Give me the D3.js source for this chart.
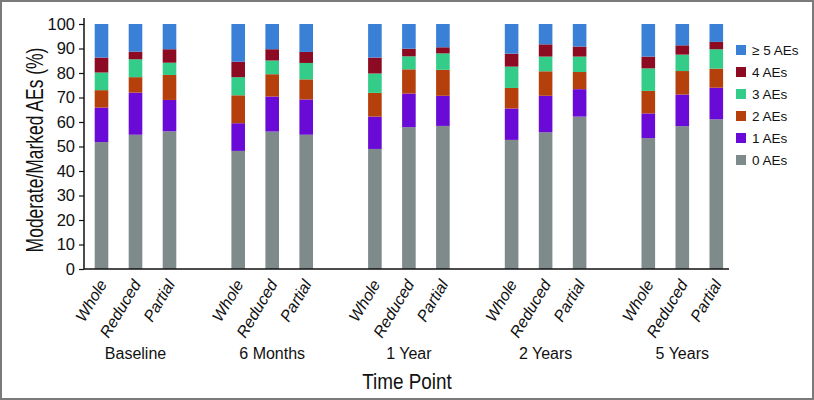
<!DOCTYPE html>
<html>
<head>
<meta charset="utf-8">
<script src="https://cdn.jsdelivr.net/npm/d3@7"></script>
<style>
  body { margin: 0; background: #fff; }
  svg { display: block; }
  text { font-family: "Liberation Sans", Arial, Helvetica, sans-serif; fill: #111; }
</style>
</head>
<body>
<svg id="chart" width="814" height="400"></svg>
<script>
// ---- data ----
const groups = ["Baseline", "6 Months", "1 Year", "2 Years", "5 Years"];
const arms = ["Whole", "Reduced", "Partial"];
const seriesNames = ["0 AEs", "1 AEs", "2 AEs", "3 AEs", "4 AEs", "\u2265 5 AEs"];
const seriesColors = ["#7f8b8b", "#6a0ad6", "#b5400b", "#33cc88", "#8c0a22", "#3a80d6"];
const yTicks = [0, 10, 20, 30, 40, 50, 60, 70, 80, 90, 100];
// values per bar, ordered Baseline(W,R,P), 6 Months(W,R,P), 1 Year, 2 Years, 5 Years
const ae0 = [51.8, 54.8, 56.2, 48.2, 56.1, 54.8, 49.0, 57.9, 58.4, 52.7, 55.8, 62.2, 53.4, 58.3, 61.1];
const ae1 = [14.1, 17.2, 12.8, 11.3, 14.3, 14.4, 13.2, 13.7, 12.3, 12.8, 14.9, 11.2, 10.1, 12.9, 12.9];
const ae2 = [7.1, 6.3, 10.2, 11.4, 9.1, 8.2, 9.7, 9.9, 10.6, 8.4, 10.0, 7.0, 9.2, 9.6, 7.8];
const ae3 = [7.2, 7.3, 5.0, 7.4, 5.6, 6.7, 7.9, 5.3, 6.7, 8.7, 6.0, 6.3, 9.2, 6.7, 7.9];
const ae4 = [6.1, 3.1, 5.5, 6.3, 4.6, 4.5, 6.5, 3.1, 2.5, 5.3, 5.0, 4.1, 4.8, 3.8, 3.0];
const ae5 = [13.7, 11.3, 10.3, 15.4, 10.3, 11.4, 13.7, 10.1, 9.5, 12.1, 8.3, 9.2, 13.3, 8.7, 7.3];
const seriesValues = [ae0, ae1, ae2, ae3, ae4, ae5];

// ---- build table ----
const rows = [];
groups.forEach((g, gi) => arms.forEach((a, ai) => {
  const r = { group: g, arm: a };
  seriesNames.forEach((s, si) => r[s] = seriesValues[si][gi * arms.length + ai]);
  rows.push(r);
}));

const svg = d3.select("#chart");
const W = 814, H = 400;

// frame
svg.append("rect").attr("x", 1).attr("y", 1).attr("width", W - 2).attr("height", H - 2)
  .attr("fill", "none").attr("stroke", "#7a7a7a").attr("stroke-width", 2);

const x0 = 84, x1 = 729, yBottom = 269, yTop = 24;
const y = d3.scaleLinear().domain([0, 100]).range([yBottom, yTop]);
const gx = d3.scalePoint().domain(groups).range([135.5, 682.3]);
const ax = d3.scaleBand().domain(arms).range([-51, 51]).paddingInner(0.6).paddingOuter(0.3);

const stack = d3.stack().keys(seriesNames);
const stacked = stack(rows);
const color = d3.scaleOrdinal().domain(seriesNames).range(seriesColors);

const layers = svg.append("g").selectAll("g").data(stacked).join("g")
  .attr("fill", d => color(d.key));
layers.selectAll("rect").data(d => d).join("rect")
  .attr("x", d => gx(d.data.group) + ax(d.data.arm))
  .attr("width", ax.bandwidth())
  .attr("y", d => y(d[1]))
  .attr("height", d => y(d[0]) - y(d[1]));

// y axis
const yAxis = d3.axisLeft(y).tickValues(yTicks).tickSize(5).tickSizeOuter(0).tickPadding(4);
const yg = svg.append("g").attr("transform", `translate(${x0},0)`).call(yAxis);
yg.select(".domain").remove();
yg.selectAll(".tick line").attr("stroke", "#111").attr("stroke-width", 1.2);
yg.selectAll(".tick text").attr("font-size", 16.5).attr("font-family", "Liberation Sans, Arial, sans-serif").attr("fill", "#111");
svg.append("line").attr("x1", x0).attr("x2", x0).attr("y1", yBottom).attr("y2", yTop - 6)
  .attr("stroke", "#111").attr("stroke-width", 1.5);
// x axis line
svg.append("line").attr("x1", x0).attr("x2", x1).attr("y1", yBottom).attr("y2", yBottom)
  .attr("stroke", "#111").attr("stroke-width", 1.5);

// rotated arm labels
const lab = svg.append("g");
rows.forEach(r => {
  const cx = gx(r.group) + ax(r.arm) + ax.bandwidth() / 2;
  lab.append("text")
    .attr("transform", `translate(${cx + 6},${yBottom + 15}) rotate(-59)`)
    .attr("text-anchor", "end")
    .attr("font-size", 16)
    .attr("font-style", "italic")
    .text(r.arm);
});

// group labels
svg.append("g").selectAll("text").data(groups).join("text")
  .attr("x", d => gx(d)).attr("y", 359)
  .attr("text-anchor", "middle").attr("font-size", 16)
  .text(d => d);

// axis titles
svg.append("text").attr("transform", "translate(407,389) scale(0.86,1)")
  .attr("text-anchor", "middle").attr("font-size", 22).text("Time Point");
svg.append("text").attr("transform", "translate(43,150) rotate(-90) scale(0.76,1)")
  .attr("text-anchor", "middle").attr("font-size", 23)
  .text("Moderate/Marked AEs (%)");

// legend
const legendOrder = seriesNames.slice().reverse();
const lg = svg.append("g").selectAll("g").data(legendOrder).join("g")
  .attr("transform", (d, i) => `translate(736,${45 + i * 22})`);
lg.append("rect").attr("width", 10).attr("height", 10).attr("fill", d => color(d));
lg.append("text").attr("x", 16).attr("y", 10).attr("font-size", 13.5).text(d => d);
</script>
</body>
</html>
